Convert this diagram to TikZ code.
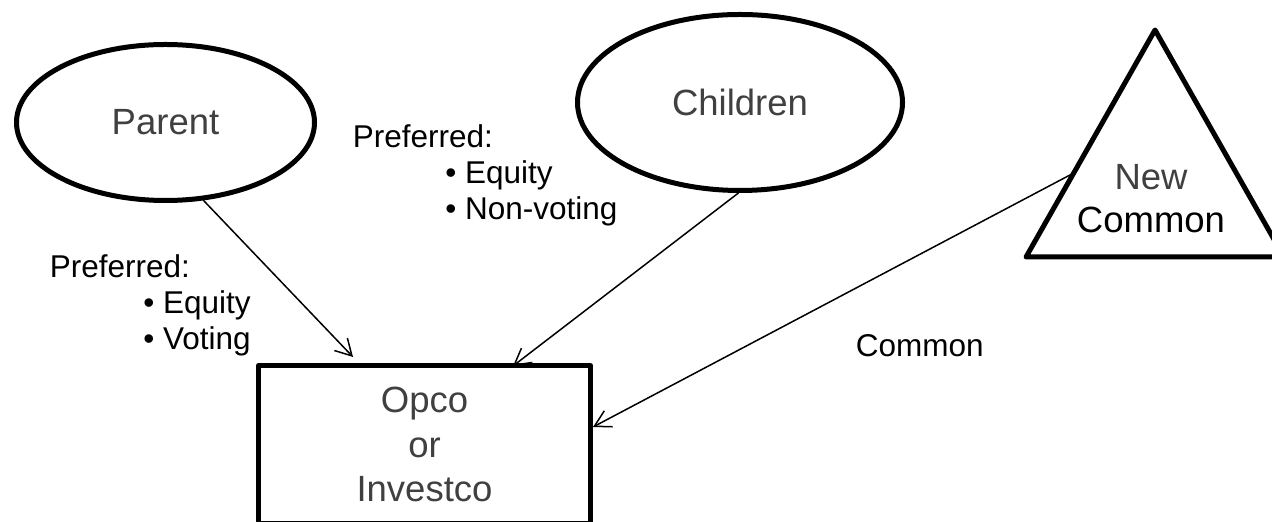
\documentclass[tikz,border=0pt]{standalone}
\usepackage{fontspec}
\setmainfont{Liberation Sans}
\usetikzlibrary{shapes.geometric,arrows.meta,calc}
\definecolor{ink}{HTML}{404040}
\begin{document}
\begin{tikzpicture}[x=0.5pt, y=-0.5pt, line join=round, line cap=round,
	>={Straight Barb[length=8pt,width=9pt]},
	blob/.style={draw, line width=2.5pt, text=ink, inner sep=0pt, align=center,
		font=\fontsize{18.25}{22.25}\selectfont},
	lbl/.style={anchor=base west, align=left, inner sep=0pt,
		font=\fontsize{15.75}{18}\selectfont},
	link/.style={->, line width=0.75pt}]
	\useasboundingbox (0,0) rectangle (1272,522);
	\clip (0,0) rectangle (1272,522);
	\path
	(1155,30) coordinate (T)
	(1026,257) coordinate (L)
	(1284,257) coordinate (R)
	;
	\node[blob, ellipse, minimum width=149pt, minimum height=78pt] (parent) at (165.5,122.5) {Parent};
	\node[blob, ellipse, minimum width=162.5pt, minimum height=88pt] (children) at (740,102.5) {Children};
	\node[blob, rectangle, minimum width=166pt, minimum height=79pt] (opco) at (424.5,444.5) {Opco\\or\\Investco};
	\draw[line width=2.5pt] (T)--(L)--(R)--cycle;
	\node[align=center, inner sep=0pt, font=\fontsize{18.25}{21.5}\selectfont] (newc) at (1151,198.5) {\textcolor{ink}{New}\\Common};
	\node[lbl] (prefA) at (49.5,350) {Preferred:\\\hspace*{46.75pt}• Equity\\\hspace*{46.75pt}• Voting};
	\node[lbl] (prefB) at (352.5,220) {Preferred:\\\hspace*{46.25pt}• Equity\\\hspace*{46.25pt}• Non-voting};
	\node[lbl] (common) at (855.5,357) {Common};
	\path
	(parent.-64) coordinate (p1)
	($(opco.north west)+(97,-6)$) coordinate (p2)
	(children.-91) coordinate (c1)
	($(opco.north)+(88.5,3)$) coordinate (c2)
	($(T)!0.63!(L)$) coordinate (t1)
	($(opco.north east)+(0,64)$) coordinate (t2)
	;
	\foreach \a/\b in {p1/p2,c1/c2,t1/t2}{
	\draw[link] (\a)--(\b);
}
\end{tikzpicture}
\end{document}
